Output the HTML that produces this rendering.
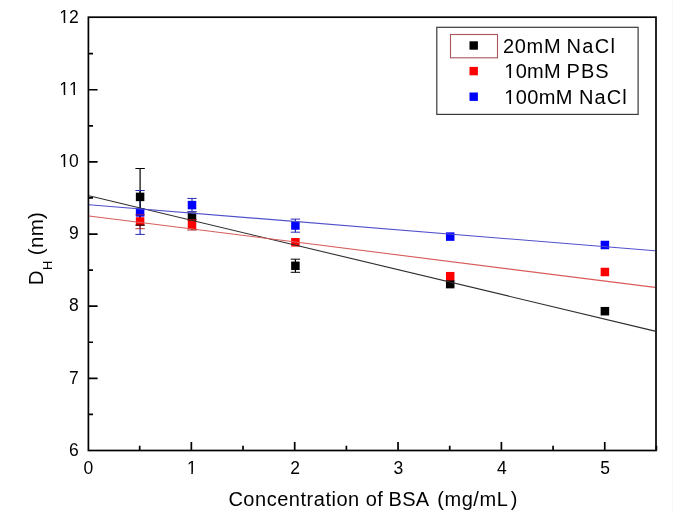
<!DOCTYPE html>
<html><head><meta charset="utf-8"><style>
html,body{margin:0;padding:0;background:#fff;width:673px;height:512px;overflow:hidden;}
body{position:relative;font-family:"Liberation Sans",sans-serif;}
text{font-kerning:none;}
</style></head><body>
<svg width="673" height="512" viewBox="0 0 673 512" style="position:absolute;left:0;top:0;will-change:transform">

<path d="M295.40 219.10V232.20" stroke="#2a2ab8" stroke-width="1.2" fill="none"/>
<path d="M192.00 198.40V211.60" stroke="#2a2ab8" stroke-width="1.2" fill="none"/>
<path d="M140.10 190.50V234.40" stroke="#2a2ab8" stroke-width="1.2" fill="none"/>
<path d="M192.00 219.60V230.00" stroke="#a01010" stroke-width="1.1" fill="none"/>
<path d="M140.10 214.80V228.70" stroke="#b02020" stroke-width="1.1" fill="none"/>
<path d="M295.40 259.20V272.30" stroke="#000" stroke-width="1.2" fill="none"/>
<path d="M140.10 168.50V225.10" stroke="#000" stroke-width="1.2" fill="none"/>
<rect x="135.85" y="192.65" width="8.5" height="8.5" fill="#000"/>
<rect x="187.75" y="212.45" width="8.5" height="8.5" fill="#000"/>
<rect x="291.15" y="261.55" width="8.5" height="8.5" fill="#000"/>
<rect x="445.95" y="279.85" width="8.5" height="8.5" fill="#000"/>
<rect x="600.65" y="306.95" width="8.5" height="8.5" fill="#000"/>
<rect x="135.85" y="217.25" width="8.5" height="8.5" fill="#f00"/>
<rect x="187.75" y="220.55" width="8.5" height="8.5" fill="#f00"/>
<rect x="291.15" y="238.05" width="8.5" height="8.5" fill="#f00"/>
<rect x="445.95" y="271.95" width="8.5" height="8.5" fill="#f00"/>
<rect x="600.65" y="267.75" width="8.5" height="8.5" fill="#f00"/>
<rect x="135.85" y="208.15" width="8.5" height="8.5" fill="#00f"/>
<rect x="187.75" y="200.85" width="8.5" height="8.5" fill="#00f"/>
<rect x="291.15" y="221.25" width="8.5" height="8.5" fill="#00f"/>
<rect x="445.95" y="232.35" width="8.5" height="8.5" fill="#00f"/>
<rect x="600.65" y="240.75" width="8.5" height="8.5" fill="#00f"/>
<line x1="89" y1="195.77" x2="655" y2="331.11" stroke="#2e2e2e" stroke-width="1.1"/>
<line x1="89" y1="215.94" x2="655" y2="287.38" stroke="#d85c5c" stroke-width="1.1"/>
<line x1="89" y1="204.77" x2="655" y2="250.75" stroke="#5050cc" stroke-width="1.1"/>
<path d="M135.40 168.50H144.80M135.40 225.10H144.80" stroke="#000" stroke-width="1.0" fill="none"/>
<path d="M290.70 259.20H300.10M290.70 272.30H300.10" stroke="#000" stroke-width="1.0" fill="none"/>
<path d="M135.40 214.80H144.80M135.40 228.70H144.80" stroke="#b02020" stroke-width="0.9" fill="none"/>
<path d="M187.30 219.60H196.70M187.30 230.00H196.70" stroke="#a01010" stroke-width="0.9" fill="none"/>
<path d="M135.40 190.50H144.80M135.40 234.40H144.80" stroke="#2a2ab8" stroke-width="1.0" fill="none"/>
<path d="M187.30 198.40H196.70M187.30 211.60H196.70" stroke="#2a2ab8" stroke-width="1.0" fill="none"/>
<path d="M290.70 219.10H300.10M290.70 232.20H300.10" stroke="#2a2ab8" stroke-width="1.0" fill="none"/>
<rect x="88.40" y="17.20" width="567.60" height="433.30" fill="none" stroke="#000" stroke-width="1.7"/>
<path d="M88.40 378.35H97.60M88.40 306.20H97.60M88.40 234.05H97.60M88.40 161.90H97.60M88.40 89.75H97.60M88.40 414.43H93.00M88.40 342.27H93.00M88.40 270.12H93.00M88.40 197.97H93.00M88.40 125.82H93.00M88.40 53.67H93.00M191.35 450.50V442.00M294.70 450.50V442.00M398.05 450.50V442.00M501.40 450.50V442.00M604.75 450.50V442.00M139.68 450.50V445.80M243.02 450.50V445.80M346.38 450.50V445.80M449.72 450.50V445.80M553.08 450.50V445.80M656.42 450.50V445.80" stroke="#000" stroke-width="1.7" fill="none"/>
<text x="78.8" y="455.67" text-anchor="end" font-size="17.5" font-family="Liberation Sans, sans-serif" fill="#000">6</text>
<text x="78.8" y="383.52" text-anchor="end" font-size="17.5" font-family="Liberation Sans, sans-serif" fill="#000">7</text>
<text x="78.8" y="311.37" text-anchor="end" font-size="17.5" font-family="Liberation Sans, sans-serif" fill="#000">8</text>
<text x="78.8" y="239.22" text-anchor="end" font-size="17.5" font-family="Liberation Sans, sans-serif" fill="#000">9</text>
<text x="78.8" y="167.07" text-anchor="end" font-size="17.5" font-family="Liberation Sans, sans-serif" fill="#000">10</text>
<text x="78.8" y="94.92" text-anchor="end" font-size="17.5" font-family="Liberation Sans, sans-serif" fill="#000">11</text>
<text x="78.8" y="22.77" text-anchor="end" font-size="17.5" font-family="Liberation Sans, sans-serif" fill="#000">12</text>
<text x="88.40" y="473.5" text-anchor="middle" font-size="17.5" font-family="Liberation Sans, sans-serif" fill="#000">0</text>
<text x="191.75" y="473.5" text-anchor="middle" font-size="17.5" font-family="Liberation Sans, sans-serif" fill="#000">1</text>
<text x="295.10" y="473.5" text-anchor="middle" font-size="17.5" font-family="Liberation Sans, sans-serif" fill="#000">2</text>
<text x="398.45" y="473.5" text-anchor="middle" font-size="17.5" font-family="Liberation Sans, sans-serif" fill="#000">3</text>
<text x="501.80" y="473.5" text-anchor="middle" font-size="17.5" font-family="Liberation Sans, sans-serif" fill="#000">4</text>
<text x="605.15" y="473.5" text-anchor="middle" font-size="17.5" font-family="Liberation Sans, sans-serif" fill="#000">5</text>
<text x="228.4" y="506.2" font-size="20" font-family="Liberation Sans, sans-serif" fill="#000" textLength="130.8" lengthAdjust="spacing">Concentration</text>
<text x="365.8" y="506.2" font-size="20" font-family="Liberation Sans, sans-serif" fill="#000" textLength="17.0" lengthAdjust="spacing">of</text>
<text x="388.4" y="506.2" font-size="20" font-family="Liberation Sans, sans-serif" fill="#000" textLength="40.8" lengthAdjust="spacing">BSA</text>
<text x="437.2" y="506.2" font-size="20" font-family="Liberation Sans, sans-serif" fill="#000" textLength="70.6" lengthAdjust="spacing">(mg/mL</text>
<text x="510.8" y="506.2" font-size="20" font-family="Liberation Sans, sans-serif" fill="#000">)</text>
<g transform="translate(43 285.2) rotate(-90)">
<text x="0" y="0" font-size="20.5" font-family="Liberation Sans, sans-serif" fill="#000">D</text>
<text x="15.1" y="8.6" font-size="13" font-family="Liberation Sans, sans-serif" fill="#000">H</text>
<text x="29.9" y="0" font-size="20.5" font-family="Liberation Sans, sans-serif" fill="#000" textLength="43.2" lengthAdjust="spacing">(nm)</text>
</g>
<rect x="436.8" y="27.3" width="201.3" height="87.1" fill="#fff" stroke="#3a3a3a" stroke-width="1.2"/>
<rect x="450.5" y="34.5" width="47" height="23.3" fill="none" stroke="#a8545c" stroke-width="1.1"/>
<rect x="469.50" y="41.30" width="8.4" height="8.4" fill="#000"/>
<text x="502.9" y="52.7" font-size="20" font-family="Liberation Sans, sans-serif" fill="#000" textLength="57.8" lengthAdjust="spacing">20mM</text>
<text x="566.6" y="52.7" font-size="20" font-family="Liberation Sans, sans-serif" fill="#000" textLength="48.35" lengthAdjust="spacing">NaCl</text>
<rect x="469.50" y="66.90" width="8.4" height="8.4" fill="#f00"/>
<text x="504.25" y="78.1" font-size="20" font-family="Liberation Sans, sans-serif" fill="#000" textLength="56.43" lengthAdjust="spacing">10mM</text>
<text x="566.6" y="78.1" font-size="20" font-family="Liberation Sans, sans-serif" fill="#000" textLength="42.03" lengthAdjust="spacing">PBS</text>
<rect x="469.50" y="92.50" width="8.4" height="8.4" fill="#00f"/>
<text x="504.25" y="104.3" font-size="20" font-family="Liberation Sans, sans-serif" fill="#000" textLength="68.25" lengthAdjust="spacing">100mM</text>
<text x="579.0" y="104.3" font-size="20" font-family="Liberation Sans, sans-serif" fill="#000" textLength="47.65" lengthAdjust="spacing">NaCl</text>
<rect x="59.96" y="164.94" width="3.77" height="2.46" fill="#fff"/>
<rect x="65.28" y="164.94" width="3.63" height="2.46" fill="#fff"/>
<rect x="59.96" y="92.94" width="3.77" height="2.46" fill="#fff"/>
<rect x="65.28" y="92.94" width="3.63" height="2.46" fill="#fff"/>
<rect x="69.68" y="92.94" width="3.77" height="2.46" fill="#fff"/>
<rect x="75.00" y="92.94" width="3.63" height="2.46" fill="#fff"/>
<rect x="59.96" y="20.94" width="3.77" height="2.46" fill="#fff"/>
<rect x="65.28" y="20.94" width="3.63" height="2.46" fill="#fff"/>
<rect x="187.52" y="471.94" width="3.77" height="2.46" fill="#fff"/>
<rect x="192.83" y="471.94" width="3.63" height="2.46" fill="#fff"/>
<rect x="505.07" y="75.76" width="4.21" height="2.64" fill="#fff"/>
<rect x="511.05" y="75.76" width="4.05" height="2.64" fill="#fff"/>
<rect x="505.07" y="101.76" width="4.21" height="2.64" fill="#fff"/>
<rect x="511.05" y="101.76" width="4.05" height="2.64" fill="#fff"/>
<rect x="672" y="0" width="1" height="512" fill="#f7f7f7"/>
</svg>
</body></html>
